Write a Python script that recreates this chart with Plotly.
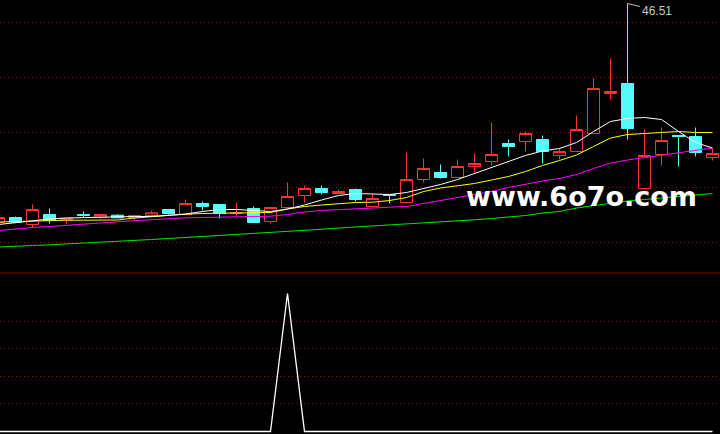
import plotly.graph_objects as go

# ---- data ----
days = list(range(43))

opens  = [24.61, 25.11, 24.41, 25.41, 24.88, 25.41, 25.16, 25.34, 25.11, 25.31,
          25.91, 25.41, 26.51, 26.41, 25.53, 26.01, 24.71, 26.11, 27.31, 28.01,
          27.51, 27.91, 26.21, 27.41, 26.61, 28.91, 29.61, 29.11, 30.21, 30.71,
          32.51, 32.71, 32.91, 31.31, 31.71, 33.51, 37.51, 38.51, 28.01, 31.41,
          33.31, 33.21, 31.11]
highs  = [25.31, 25.21, 26.41, 26.01, 25.04, 25.71, 25.48, 25.44, 25.41, 25.81,
          25.91, 26.91, 26.71, 26.41, 26.61, 26.21, 26.11, 28.61, 28.31, 28.31,
          27.91, 28.01, 27.41, 27.41, 31.61, 31.01, 30.41, 30.91, 31.51, 34.61,
          32.91, 33.71, 33.31, 32.01, 35.31, 39.01, 41.01, 46.51, 33.91, 34.11,
          33.31, 34.11, 32.01]
lows   = [24.41, 24.54, 24.11, 24.51, 24.44, 25.11, 24.98, 25.06, 24.81, 25.31,
          25.41, 25.41, 25.81, 25.01, 25.21, 24.61, 24.51, 26.11, 26.61, 27.41,
          27.51, 26.71, 26.11, 26.51, 26.51, 28.61, 29.01, 29.11, 29.51, 30.31,
          31.21, 31.71, 30.51, 30.91, 31.71, 33.51, 36.91, 32.91, 28.01, 30.31,
          30.21, 31.21, 30.81]
closes = [25.11, 24.64, 25.91, 24.81, 25.04, 25.31, 25.41, 25.08, 25.31, 25.58,
          25.51, 26.51, 26.21, 25.51, 25.58, 24.61, 26.11, 27.21, 28.01, 27.61,
          27.71, 26.91, 27.01, 27.31, 28.91, 30.01, 29.11, 30.21, 30.51, 31.41,
          32.21, 33.51, 31.71, 31.71, 33.91, 38.01, 37.71, 34.01, 31.31, 32.81,
          33.21, 31.61, 31.51]

ma_white   = [24.41, 24.61, 24.81, 24.96, 25.06, 25.11, 25.14, 25.16, 25.21, 25.21,
              25.31, 25.46, 25.71, 25.91, 25.91, 25.81, 25.71, 25.96, 26.36, 26.86,
              27.31, 27.51, 27.46, 27.41, 27.61, 28.01, 28.41, 28.91, 29.51, 30.06,
              30.71, 31.31, 31.76, 32.01, 32.61, 33.71, 34.71, 35.01, 35.11, 34.91,
              33.71, 32.61, 32.06]
ma_yellow  = [24.66, 24.71, 24.81, 24.84, 24.84, 24.84, 24.86, 24.86, 25.06, 25.21,
              25.31, 25.44, 25.51, 25.54, 25.56, 25.56, 25.61, 25.96, 26.21, 26.36,
              26.51, 26.61, 26.64, 26.81, 27.11, 27.71, 28.06, 28.31, 28.51, 28.86,
              29.21, 29.71, 30.31, 30.81, 31.36, 32.21, 33.06, 33.41, 33.51, 33.56,
              33.71, 33.61, 33.61]
ma_magenta = [23.81, 23.98, 24.11, 24.21, 24.31, 24.46, 24.58, 24.68, 24.79, 24.91,
              24.98, 25.08, 25.11, 25.16, 25.21, 25.21, 25.24, 25.41, 25.66, 25.81,
              25.91, 26.01, 26.08, 26.14, 26.21, 26.51, 26.81, 27.06, 27.36, 27.71,
              28.11, 28.46, 28.76, 29.01, 29.41, 30.01, 30.56, 30.86, 31.11, 31.31,
              31.56, 31.81, 32.06]
ma_green   = [22.16, 22.26, 22.31, 22.38, 22.46, 22.54, 22.61, 22.69, 22.78, 22.91,
              23.01, 23.11, 23.21, 23.29, 23.36, 23.46, 23.61, 23.71, 23.81, 23.93,
              24.06, 24.16, 24.21, 24.31, 24.41, 24.51, 24.64, 24.76, 24.88, 25.01,
              25.16, 25.31, 25.56, 25.71, 26.06, 26.31, 26.56, 26.76, 26.91, 27.06,
              27.21, 27.36, 27.51]

signal = [0, 0, 0, 0, 0, 0, 0, 0, 0, 0, 0, 0, 0, 0, 0, 0, 0, 1, 0, 0,
          0, 0, 0, 0, 0, 0, 0, 0, 0, 0, 0, 0, 0, 0, 0, 0, 0, 0, 0, 0,
          0, 0, 0]

price_grid = [44.61, 39.11, 33.61, 28.11, 22.61]
signal_grid = [0.2, 0.4, 0.6, 0.8]
peak_label = "46.51"
watermark = "www.6o7o.com"

RED = "#ff3232"
CYAN = "#54fcfc"
GRID = "#a80000"

fig = go.Figure()

fig.add_trace(go.Candlestick(
    x=days, open=opens, high=highs, low=lows, close=closes,
    increasing=dict(line=dict(color=RED, width=1), fillcolor="#000000"),
    decreasing=dict(line=dict(color=CYAN, width=1), fillcolor=CYAN),
    whiskerwidth=0, xaxis="x", yaxis="y", hoverinfo="skip",
))

for vals, col in [(ma_green, "#00e600"), (ma_magenta, "#ff00ff"),
                  (ma_yellow, "#ffff00"), (ma_white, "#ffffff")]:
    fig.add_trace(go.Scatter(x=days, y=vals, mode="lines",
                             line=dict(color=col, width=1),
                             xaxis="x", yaxis="y", hoverinfo="skip"))

fig.add_trace(go.Scatter(x=days, y=signal, mode="lines",
                         line=dict(color="#ffffff", width=1.3),
                         xaxis="x2", yaxis="y2", hoverinfo="skip"))

peak_i = highs.index(max(highs))
fig.add_annotation(x=days[peak_i], y=highs[peak_i], xref="x", yref="y",
                   text=peak_label, showarrow=True, arrowhead=0, arrowwidth=1,
                   arrowcolor="#c0c0c0", ax=29, ay=7, standoff=0,
                   font=dict(family="Liberation Sans", size=12, color="#c8c8c8"))

fig.add_annotation(x=581.5 / 720, y=1 - 196.7 / 434, xref="paper", yref="paper",
                   text=watermark, showarrow=False, xanchor="center", yanchor="middle",
                   font=dict(family="DejaVu Sans", size=27, color="#ffffff", weight="bold"))

fig.add_shape(type="line", xref="paper", x0=0, x1=1, yref="y2 domain", y0=1, y1=1,
              line=dict(color="#8c0000", width=1))

xr = [(0 + 1.5) / 17, (720 + 1.5) / 17]
axis_common = dict(showticklabels=False, ticks="", zeroline=False, showline=False)

top = 46.86
fig.update_layout(
    width=720, height=434,
    margin=dict(l=0, r=0, t=0, b=0),
    paper_bgcolor="#000000", plot_bgcolor="#000000",
    showlegend=False,
    boxgap=1 - 12 / 17, boxgroupgap=0,
    xaxis=dict(domain=[0, 1], range=xr, showgrid=False, rangeslider=dict(visible=False),
               anchor="y", **axis_common),
    yaxis=dict(domain=[1 - 271 / 434, 1], range=[top - 27.1, top],
               tickvals=price_grid, showgrid=True, gridcolor=GRID, griddash="1px,3px",
               gridwidth=1, anchor="x", **axis_common),
    xaxis2=dict(domain=[0, 1], range=xr, showgrid=False, anchor="y2", matches="x",
                **axis_common),
    yaxis2=dict(domain=[0, 1 - 273 / 434], range=[(431.5 - 434) / 138, (431.5 - 273) / 138],
                tickvals=signal_grid, showgrid=True, gridcolor=GRID, griddash="1px,3px",
                gridwidth=1, anchor="x2", **axis_common),
)

fig.write_html("out.html", config={"displayModeBar": False, "staticPlot": True},
               post_script="document.body.style.margin='0';")
